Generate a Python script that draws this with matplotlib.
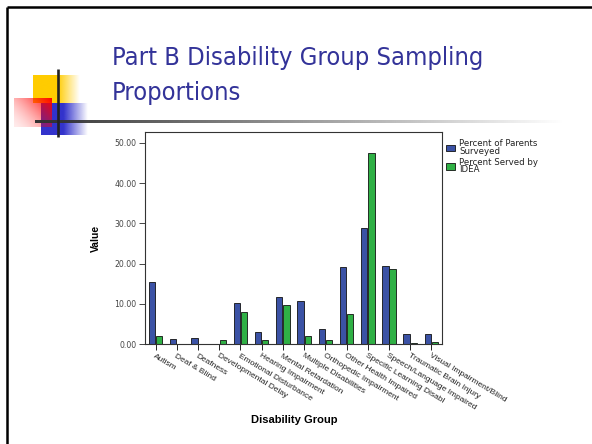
import numpy as np
import matplotlib.pyplot as plt
from matplotlib.colors import to_rgb

# data
groups = ['Autism', 'Deaf & Blind', 'Deafness', 'Developmental Delay',
          'Emotional Disturbance', 'Hearing Impairment', 'Mental Retardation',
          'Multiple Disabilities', 'Orthopedic Impairment', 'Other Health Impaired',
          'Specific Learning Disabl', 'Speech/Language Impaired',
          'Traumatic Brain Injury', 'Visual Impairment/Blind']
parents_surveyed = [15.3, 1.2, 1.5, 0.0, 10.3, 2.9, 11.7, 10.7, 3.8, 19.1,
                    28.8, 19.4, 2.5, 2.6]
served_by_idea = [2.1, 0.0, 0.0, 1.0, 7.9, 1.1, 9.6, 2.1, 1.1, 7.4,
                  47.4, 18.7, 0.3, 0.5]
series_names = ['Percent of Parents\nSurveyed', 'Percent Served by\nIDEA']

W, H = 592, 444
fig = plt.figure(figsize=(W / 100, H / 100), dpi=100)
fig.patch.set_facecolor('white')

# slide background layer in pixel coordinates
bg = fig.add_axes([0, 0, 1, 1])
bg.set_xlim(0, W)
bg.set_ylim(H, 0)
bg.axis('off')


def gradient_box(x0, x1, y0, y1, color, solid_frac=0.0, diagonal=False):
    n = 100
    rgb = np.array(to_rgb(color))
    xs = np.linspace(0, 1, n)
    if diagonal:
        X, Y = np.meshgrid(xs, xs)
        a = 0.08 + 0.92 * np.clip((1.4 * X + (1 - Y)) / 2.4, 0, 1) ** 1.6
    else:
        a = np.where(xs <= solid_frac, 1.0, np.clip((1 - xs) / (1 - solid_frac), 0, 1))
        a = np.tile(a, (n, 1))
    img = np.ones((n, n, 4))
    img[..., :3] = rgb
    img[..., 3] = a
    bg.imshow(img, extent=(x0, x1, y1, y0), aspect='auto', interpolation='bilinear', zorder=2)


# decorative squares
gradient_box(33, 80, 76, 103, '#FFCC00', solid_frac=0.52)
gradient_box(41, 88, 103, 135, '#3333CC', solid_frac=0.48)
gradient_box(14, 52, 98, 127, '#FF0000', diagonal=True)

# horizontal gradient rule
n = 256
rule = np.ones((1, n, 4))
rule[0, :, :3] = 0.2
rule[0, :, 3] = np.linspace(1, 0, n)
bg.imshow(rule, extent=(35, 565, 123, 120), aspect='auto', interpolation='bilinear', zorder=3)
bg.plot([58, 58], [69, 137], color='#222222', lw=1.9, solid_capstyle='butt', zorder=4)

# slide frame (left and top)
bg.plot([7, 7], [7, H], color='black', lw=1.8, solid_capstyle='butt', zorder=4)
bg.plot([7, W], [7, 7], color='black', lw=1.8, solid_capstyle='butt', zorder=4)

# slide title
title_font = dict(color='#333399', fontsize=18.3, family='DejaVu Sans',
                  fontstretch='condensed', va='baseline', ha='left', zorder=5)
bg.text(112, 65, 'Part B Disability Group Sampling', **title_font)
bg.text(112, 100, 'Proportions', **title_font)

# chart
ax = fig.add_axes([145 / W, 1 - 344 / H, 297 / W, 212 / H])
x = np.arange(len(groups))
bw = 0.3
ax.bar(x - 0.17, parents_surveyed, bw, color='#3B52A5', edgecolor='#111111',
       linewidth=0.6, label=series_names[0])
ax.bar(x + 0.17, served_by_idea, bw, color='#2FB045', edgecolor='#111111',
       linewidth=0.6, label=series_names[1])

ax.set_xlim(-0.5, len(groups) - 0.5)
ax.set_ylim(0, 52.7)
ax.set_yticks(np.arange(0, 51, 10))
ax.set_yticklabels(['%.2f' % v for v in np.arange(0, 51, 10)])
ax.set_xticks(x)
ax.set_xticklabels(groups, rotation=-31, ha='left', va='top',
                   rotation_mode='anchor', fontsize=6.0, color='#444444',
                   family='Liberation Sans')
ax.tick_params(axis='y', labelsize=5.6, colors='#444444', length=4, width=0.7, pad=2)
ax.tick_params(axis='x', length=4, width=0.7, colors='#222222', pad=2)
for lab in ax.get_yticklabels():
    lab.set_family('DejaVu Sans')
for s in ax.spines.values():
    s.set_color('#333333')
    s.set_linewidth(0.8)

ax.set_ylabel('Value', fontsize=7.5, fontweight='bold',
              family=['Liberation Sans Narrow', 'Liberation Sans'], labelpad=10)
fig.text(294 / W, 1 - 420 / H, 'Disability Group', fontsize=8, fontweight='bold',
         family='Liberation Sans', ha='center', va='center')

leg = ax.legend(loc='upper left', bbox_to_anchor=(446 / W, 1 - 139 / H),
                bbox_transform=fig.transFigure, frameon=False, fontsize=6.2,
                handlelength=1.0, handleheight=0.75, handletextpad=0.5,
                labelspacing=0.25, borderaxespad=0, borderpad=0)
for t in leg.get_texts():
    t.set_family('DejaVu Sans')
    t.set_color('#222222')
    t.set_linespacing(0.8)

fig.savefig('out.png', dpi=100)
